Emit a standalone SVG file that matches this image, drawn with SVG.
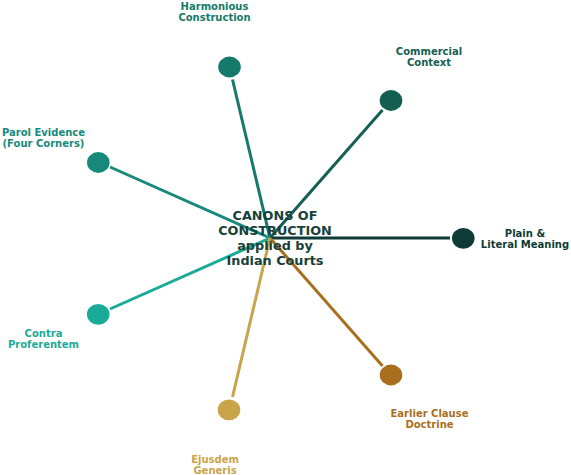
<svg xmlns="http://www.w3.org/2000/svg" width="571" height="475" viewBox="0 0 571 475">
<style>
.edge{stroke-width:3;fill:none;stroke-linecap:butt}
.lbl{font-family:"DejaVu Sans",Verdana,sans-serif;font-weight:bold;font-size:10px;text-anchor:middle}
.title{font-family:"DejaVu Sans",Verdana,sans-serif;font-weight:bold;font-size:12.8px;text-anchor:middle;fill:#173f3b}
</style>
<rect width="571" height="475" fill="#ffffff"/>
<g id="connectors">
<line class="edge" x1="270" y1="238" x2="232.5" y2="79.5" stroke="#157a6b"/>
<line class="edge" x1="270" y1="238" x2="382.5" y2="110" stroke="#155e52"/>
<line class="edge" x1="270" y1="238" x2="110" y2="167" stroke="#17897a"/>
<line class="edge" x1="270" y1="238" x2="450" y2="238" stroke="#0e3b37"/>
<line class="edge" x1="270" y1="238" x2="110" y2="309" stroke="#1aab98"/>
<line class="edge" x1="270" y1="238" x2="382.5" y2="366" stroke="#a8701e"/>
<line class="edge" x1="270" y1="238" x2="232.5" y2="397" stroke="#c9a44b"/>
</g>
<g id="center">
<text class="title" x="275" y="220">CANONS OF</text>
<text class="title" x="275" y="235">CONSTRUCTION</text>
<text class="title" x="275" y="250">applied by</text>
<text class="title" x="275" y="265">Indian Courts</text>
</g>
<g id="harmonious">
<ellipse cx="229.5" cy="67" rx="11.3" ry="10.4" fill="#157a6b"/>
<text class="lbl" fill="#157a6b" x="214.5" y="10">Harmonious</text>
<text class="lbl" fill="#157a6b" x="214.5" y="21">Construction</text>
</g>
<g id="commercial">
<ellipse cx="391" cy="100.5" rx="11.3" ry="10.4" fill="#155e52"/>
<text class="lbl" fill="#155e52" x="429" y="54.5">Commercial</text>
<text class="lbl" fill="#155e52" x="429" y="65.5">Context</text>
</g>
<g id="parol">
<ellipse cx="98.3" cy="162.5" rx="11.3" ry="10.4" fill="#17897a"/>
<text class="lbl" fill="#17897a" x="43.5" y="135.5">Parol Evidence</text>
<text class="lbl" fill="#17897a" x="43.5" y="146.5">(Four Corners)</text>
</g>
<g id="plain">
<ellipse cx="463.3" cy="238.3" rx="11.3" ry="10.4" fill="#0e3b37"/>
<text class="lbl" fill="#0e3b37" x="525" y="236.5">Plain &amp;</text>
<text class="lbl" fill="#0e3b37" x="525" y="247.5">Literal Meaning</text>
</g>
<g id="contra">
<ellipse cx="98.2" cy="314.3" rx="11.3" ry="10.4" fill="#1aab98"/>
<text class="lbl" fill="#1aab98" x="43.5" y="337">Contra</text>
<text class="lbl" fill="#1aab98" x="43.5" y="348">Proferentem</text>
</g>
<g id="earlier">
<ellipse cx="391" cy="375" rx="11.3" ry="10.4" fill="#a8701e"/>
<text class="lbl" fill="#a8701e" x="429.5" y="417">Earlier Clause</text>
<text class="lbl" fill="#a8701e" x="429.5" y="428">Doctrine</text>
</g>
<g id="ejusdem">
<ellipse cx="229" cy="409.8" rx="11.3" ry="10.4" fill="#c9a44b"/>
<text class="lbl" fill="#c9a44b" x="215" y="462.5">Ejusdem</text>
<text class="lbl" fill="#c9a44b" x="215" y="473.5">Generis</text>
</g>
</svg>
